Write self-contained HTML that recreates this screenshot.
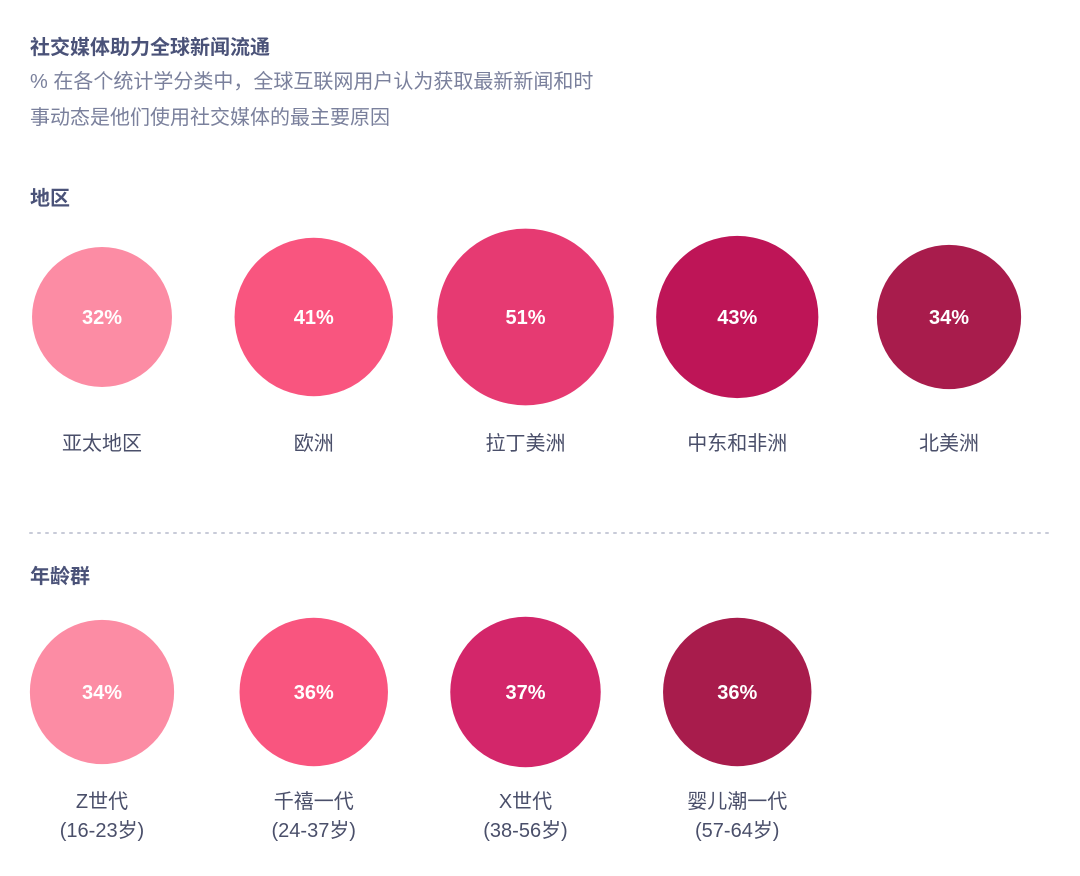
<!DOCTYPE html>
<html><head><meta charset="utf-8">
<style>
body{margin:0;background:#fff;width:1080px;height:876px;overflow:hidden;font-family:"Liberation Sans","Noto Sans CJK SC",sans-serif;}
svg{display:block}
</style></head><body>
<svg id="chart" width="1080" height="876" xmlns="http://www.w3.org/2000/svg">
<text x="30" y="54" font-size="20" font-weight="bold" fill="#4a5278" font-family="Liberation Sans, Noto Sans CJK SC, sans-serif">社交媒体助力全球新闻流通</text>
<text x="30" y="88" font-size="20" fill="#7a809c" font-family="Liberation Sans, Noto Sans CJK SC, sans-serif">% 在各个统计学分类中，全球互联网用户认为获取最新新闻和时</text>
<text x="30" y="124" font-size="20" fill="#7a809c" font-family="Liberation Sans, Noto Sans CJK SC, sans-serif">事动态是他们使用社交媒体的最主要原因</text>
<text x="30" y="205" font-size="20" font-weight="bold" fill="#4a5278" font-family="Liberation Sans, Noto Sans CJK SC, sans-serif">地区</text>
<line x1="30" y1="533" x2="1050" y2="533" stroke="#c8cbd8" stroke-width="2" stroke-dasharray="2,6" stroke-linecap="round"/>
<text x="30" y="583" font-size="20" font-weight="bold" fill="#4a5278" font-family="Liberation Sans, Noto Sans CJK SC, sans-serif">年龄群</text>
<g id="marks"></g>
</svg>
<script>
const regionCategories=["亚太地区","欧洲","拉丁美洲","中东和非洲","北美洲"];
const regionValues=[32,41,51,43,34];
const ageCategories=["Z世代","千禧一代","X世代","婴儿潮一代"];
const ageSubLabels=["(16-23岁)","(24-37岁)","(38-56岁)","(57-64岁)"];
const ageValues=[34,36,37,36];
const regionColors=["#fc8ca4","#f9557f","#e63a72","#be1557","#a81c4c"];
const ageColors=["#fc8ca4","#f9557f","#d3266a","#a81c4c"];
const NS="http://www.w3.org/2000/svg";
const g=document.getElementById('marks');
const xPos=i=>102+i*211.75;
const rScale=v=>12.37*Math.sqrt(v);
function mk(tag,attrs){const e=document.createElementNS(NS,tag);for(const k in attrs)e.setAttribute(k,attrs[k]);g.appendChild(e);return e;}
function row(cats,vals,cols,cy,labelY,subs,prefix){
  vals.forEach((v,i)=>{
    const c=mk('circle',{cx:xPos(i),cy:cy,r:rScale(v),fill:cols[i]});
    
    
    const t=mk('text',{x:xPos(i),y:cy+7,'text-anchor':'middle','font-size':'20','font-weight':'bold',fill:'#fff'});
    t.textContent=v+'%';
    
    
    const l=mk('text',{x:xPos(i),y:labelY,'text-anchor':'middle','font-size':'20',fill:'#4a4f6a'});
    l.textContent=cats[i];
    
    
    if(subs){
      const s=mk('text',{x:xPos(i),y:labelY+29,'text-anchor':'middle','font-size':'20',fill:'#4a4f6a'});
      s.textContent=subs[i];
      
      
    }
  });
}
row(regionCategories,regionValues,regionColors,317,450,null,'region');
row(ageCategories,ageValues,ageColors,692,808,ageSubLabels,'age');
</script>
</body></html>
